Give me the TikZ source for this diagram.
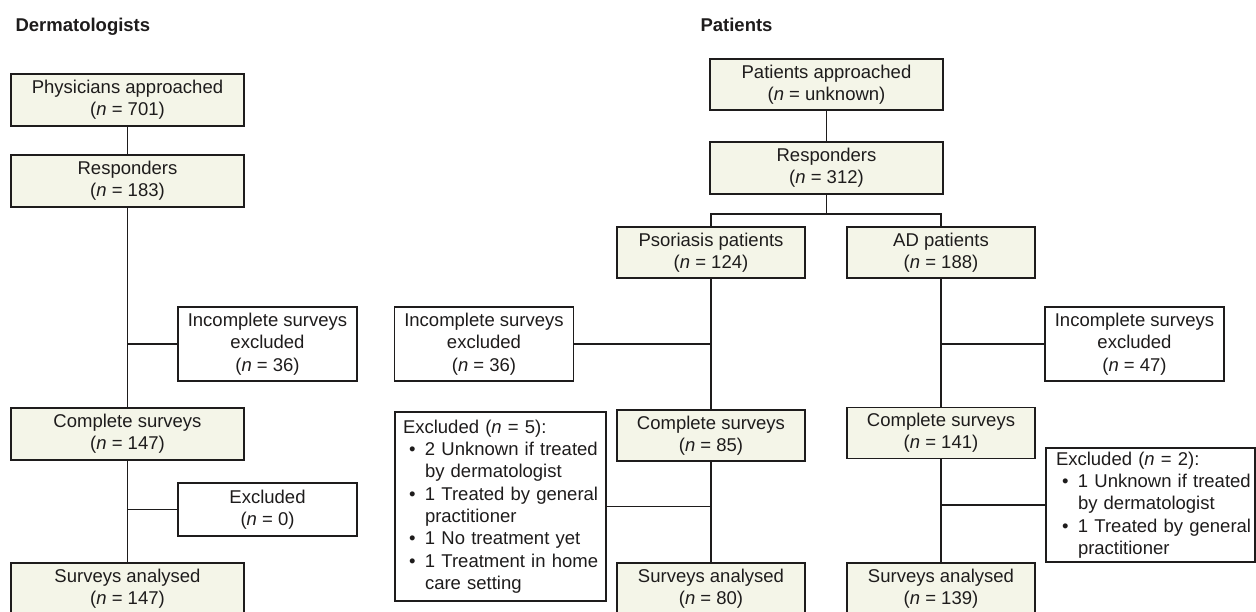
\documentclass[tikz,border=0pt]{standalone}
\usepackage{fontspec}
\setmainfont{Liberation Sans}
\definecolor{boxfill}{RGB}{244,245,232}
\definecolor{ink}{RGB}{30,28,28}
\newcommand{\bul}{\hspace*{6pt}\makebox[16pt][l]{•}}
\newcommand{\hng}{\hspace*{22pt}}
\newcommand{\nn}{\textit{n}}
\newcommand{\lline}[1]{\mbox{#1}}
\begin{document}
\begin{tikzpicture}[x=1pt,y=-1pt,
  every node/.style={font=\fontsize{18.5}{22.3}\selectfont, text=ink},
  base/.style={draw=ink, line width=1.4pt, inner sep=0pt, align=center},
  mainbox/.style={base, fill=boxfill},
  widebox/.style={mainbox, minimum width=233pt, minimum height=52pt},
  midbox/.style={mainbox, minimum width=188pt, minimum height=51pt},
  exbox/.style={base, fill=white},
  incbox/.style={exbox, minimum width=179pt, minimum height=74pt},
  listbox/.style={exbox, align=left, inner ysep=0pt},
  title/.style={anchor=base west, font=\fontsize{18.5}{22.3}\selectfont\bfseries},
  link/.style={draw=ink, line width=1.4pt}]
\useasboundingbox (0,0) rectangle (1256,611);

% titles
\node[title] (tD) at (12,31) {Dermatologists};
\node[title] (tP) at (697,31) {Patients};

% Dermatologists
\node[widebox] (D1) at (127.5,100) {Physicians approached\\(\nn{} = 701)};
\node[widebox] (D2) at (127.5,181) {Responders\\(\nn{} = 183)};
\node[incbox] (D3) at (267.5,344) {Incomplete surveys\\excluded\\(\nn{} = 36)};
\node[widebox] (D4) at (127.5,434) {Complete surveys\\(\nn{} = 147)};
\node[exbox, minimum width=179pt, minimum height=53pt] (D5) at (267.5,509.5) {Excluded\\(\nn{} = 0)};
\node[widebox] (D6) at (127.5,589) {Surveys analysed\\(\nn{} = 147)};

\draw[link] (D1) -- (D2);
\draw[link] (D2) -- (D4);
\draw[link] (D4) -- (D6);
\draw[link] (D3.west) -- (D3.west -| D2.south);
\draw[link] (D5.west) -- (D5.west -| D4.south);

% Patients
\node[widebox, minimum height=51pt] (P1) at (826.5,84.5) {Patients approached\\(\nn{} = unknown)};
\node[widebox] (P2) at (826.5,168) {Responders\\(\nn{} = 312)};
\node[midbox] (P3) at (711,252.5) {Psoriasis patients\\(\nn{} = 124)};
\node[midbox] (P4) at (941,252.5) {AD patients\\(\nn{} = 188)};
\coordinate (br) at (826.5,214);
\draw[link] (P1) -- (P2);
\draw[link] (P2.south) -- (br);
\draw[link] (P3.north) |- (br) -| (P4.north);

\node[incbox] (PI1) at (484,344) {Incomplete surveys\\excluded\\(\nn{} = 36)};
\node[incbox] (PI2) at (1134.5,344) {Incomplete surveys\\excluded\\(\nn{} = 47)};

\node[midbox] (P5) at (711,435.5) {Complete surveys\\(\nn{} = 85)};
\node[midbox] (P6) at (941,433) {Complete surveys\\(\nn{} = 141)};

\node[listbox, minimum width=211pt, minimum height=189pt, inner xsep=8pt, text width=195pt] (PX1) at (500.5,506.5)
  {\lline{Excluded (\nn{} = 5):}\\
   \lline{\bul 2 Unknown if treated}\\
   \lline{\hng by dermatologist}\\
   \lline{\bul 1 Treated by general}\\
   \lline{\hng practitioner}\\
   \lline{\bul 1 No treatment yet}\\
   \lline{\bul 1 Treatment in home}\\
   \lline{\hng care setting}};
\node[listbox, minimum width=209pt, minimum height=114pt, inner xsep=10pt, text width=189pt] (PX2) at (1150.5,505)
  {\lline{Excluded (\nn{} = 2):}\\
   \lline{\bul 1 Unknown if treated}\\
   \lline{\hng by dermatologist}\\
   \lline{\bul 1 Treated by general}\\
   \lline{\hng practitioner}};

\node[midbox, minimum height=52pt] (P7) at (711,589) {Surveys analysed\\(\nn{} = 80)};
\node[midbox, minimum height=52pt] (P8) at (941,589) {Surveys analysed\\(\nn{} = 139)};

\draw[link] (P3) -- (P5);
\draw[link] (P5) -- (P7);
\draw[link] (P4) -- (P6);
\draw[link] (P6) -- (P8);
\draw[link] (PI1.east) -- (PI1.east -| P3.south);
\draw[link] (PI2.west) -- (PI2.west -| P4.south);
\draw[link] (PX1.east) -- (PX1.east -| P5.south);
\draw[link] (PX2.west) -- (PX2.west -| P6.south);
\end{tikzpicture}
\end{document}
